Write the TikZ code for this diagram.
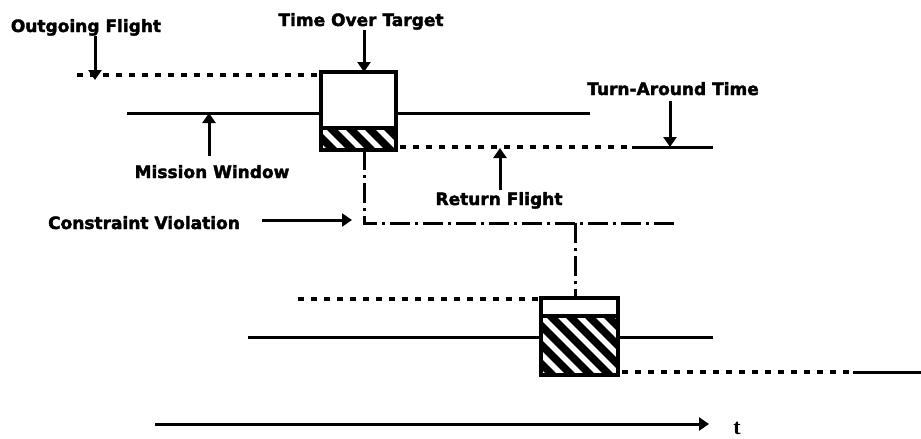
\documentclass[tikz,border=0pt]{standalone}
\usepackage{fontspec}
\setmainfont[BoldFeatures={FakeBold=2.2}]{DejaVu Sans}
\newfontfamily\tfont{Liberation Serif}
\usetikzlibrary{arrows.meta}
\newcommand\myhatch[4]{%
  \begin{scope}
    \clip (#1,#2) rectangle (#3,#4);
    \fill[black] (#1,#2) rectangle (#3,#4);
    \foreach \k in {-100,-81,...,100}{
      \draw[white,line width=5.5pt] (#1+\k,#2-5) -- ++(110,110);
    }
  \end{scope}}
\begin{document}
\begin{tikzpicture}[x=1pt,y=-1pt,
  lab/.style={font=\fontsize{17}{20}\selectfont\bfseries, inner sep=0pt, anchor=base},
  solidln/.style={line width=3pt},
  dotln/.style={line width=3.4pt, dash pattern=on 6pt off 7pt},
  dashdot/.style={line width=3pt, dash pattern=on 20pt off 5pt on 3pt off 5pt},
  arr/.style={line width=3pt, -{Triangle[width=13pt,length=10pt]}},
  boxln/.style={line width=3.2pt}]
\useasboundingbox (0,0) rectangle (921,439);

% labels
\node[lab] (og)  at (86,32)  {Outgoing Flight};
\node[lab] (tot) at (361,26) {Time Over Target};
\node[lab] (mw)  at (212,178) {Mission Window};
\node[lab] (tat) at (673,95) {Turn-Around Time};
\node[lab] (rf)  at (499,205) {Return Flight};
\node[lab] (cv)  at (144,229) {Constraint Violation};
\node[lab, font=\tfont\fontsize{22}{24}\selectfont\bfseries] (t) at (737,434) {t};

% top box
\coordinate (b1nw) at (321,72);
\coordinate (b1se) at (396,150);
\myhatch{321}{128}{396}{150}
\draw[boxln] (321,128) -- (396,128);
\draw[boxln] (b1nw) rectangle (b1se);

% bottom box
\coordinate (b2nw) at (541,298);
\coordinate (b2se) at (618,375);
\myhatch{541}{316}{618}{375}
\draw[boxln] (541,316) -- (618,316);
\draw[boxln] (b2nw) rectangle (b2se);

% top timeline
\draw[dotln] (77,75) -- (b1nw |- 0,75);
\draw[solidln] (127,113) -- (321,113);
\draw[solidln] (396,113) -- (590,113);
\draw[dotln] (400,147) -- (630,147);
\draw[solidln] (632,147) -- (713,147);

% constraint violation path
\coordinate (b1bot) at (364,150);
\coordinate (cvc) at (364,223);
\coordinate (b2top) at (575,298);
\draw[dashdot] (b1bot) -- (cvc) -- (675,223);
\draw[dashdot] (575,223) -- (b2top);

% bottom timeline
\draw[dotln] (298,299) -- (541,299);
\draw[solidln] (248,337) -- (541,337);
\draw[solidln] (618,337) -- (713,337);
\draw[dotln] (622,372) -- (850,372);
\draw[solidln] (853,372) -- (921,372);

% time axis
\coordinate (tax0) at (155,424);
\coordinate (tax1) at (709,424);
\draw[arr] (tax0) -- (tax1);

% arrows from labels
\coordinate (ogtip) at (95,80);
\draw[arr] (og.south -| ogtip) -- (ogtip);
\coordinate (tottip) at (364,72);
\draw[arr] (tot.south -| tottip) -- (tottip);
\coordinate (mwtip) at (209,113);
\draw[arr] ([yshift=9pt]mw.north -| mwtip) -- (mwtip);
\coordinate (tattip) at (670,147);
\draw[arr] ([yshift=-6pt]tat.south -| tattip) -- (tattip);
\coordinate (rftip) at (500,148);
\draw[arr] ([yshift=2pt]rf.north -| rftip) -- (rftip);
\coordinate (cvtip) at (352,220);
\draw[arr] ([xshift=22pt]cv.east |- cvtip) -- (cvtip);
\end{tikzpicture}
\end{document}
